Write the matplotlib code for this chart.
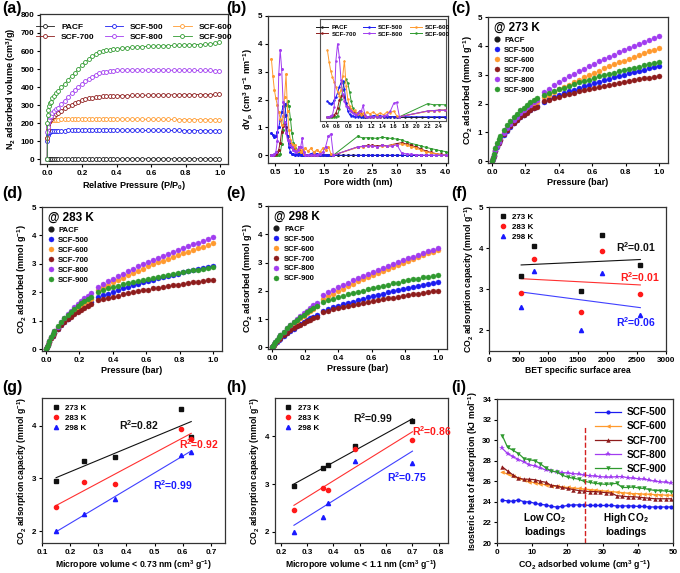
import numpy as np
import matplotlib
matplotlib.use('Agg')
import matplotlib.pyplot as plt

plt.rcParams['font.family'] = ['Liberation Sans', 'DejaVu Sans']
plt.rcParams['font.weight'] = 'bold'
plt.rcParams['axes.labelweight'] = 'bold'
plt.rcParams['mathtext.fontset'] = 'custom'
plt.rcParams['mathtext.rm'] = 'Liberation Sans:bold'
plt.rcParams['mathtext.it'] = 'Liberation Sans:bold:italic'
plt.rcParams['mathtext.bf'] = 'Liberation Sans:bold'
plt.rcParams['mathtext.default'] = 'rm'

# ---------------------- colours ----------------------
NAMES = ['PACF', 'SCF-500', 'SCF-600', 'SCF-700', 'SCF-800', 'SCF-900']
COLORS = {'PACF': '#1a1a1a', 'SCF-500': '#1c1cf0', 'SCF-600': '#ff9a2e',
          'SCF-700': '#8e1c1c', 'SCF-800': '#a13cf0', 'SCF-900': '#2f9a2f'}

# ---------------------- (a) N2 isotherms ----------------------
p_a = [0.0, 0.0005, 0.002, 0.005, 0.01, 0.015, 0.02, 0.03, 0.04, 0.05, 0.06, 0.08, 0.10, 0.12,
       0.14, 0.16, 0.18, 0.20, 0.22, 0.24, 0.26, 0.28, 0.30, 0.32, 0.34, 0.36, 0.38, 0.40, 0.43,
       0.46, 0.49, 0.52, 0.55, 0.58, 0.61, 0.64, 0.67, 0.70, 0.73, 0.76, 0.79, 0.82, 0.85, 0.88,
       0.91, 0.94, 0.97, 0.99]
n2_pacf = [0, 0.5, 0.8, 1.0, 1.2, 1.3, 1.4, 1.5, 1.6, 1.6, 1.7, 1.8, 1.9, 1.9, 2.0, 2.0, 2.0, 2.1,
           2.1, 2.1, 2.2, 2.2, 2.2, 2.2, 2.3, 2.3, 2.3, 2.3, 2.4, 2.4, 2.4, 2.4, 2.5, 2.5, 2.5, 2.5,
           2.6, 2.6, 2.6, 2.6, 2.7, 2.7, 2.7, 2.8, 2.8, 2.8, 2.9, 3.0]
n2_500 = [0, 100, 135, 148, 152, 154, 155, 156, 157, 158, 158, 159, 159, 160, 160, 160, 160, 161,
          161, 161, 161, 161, 161, 161, 161, 161, 161, 161, 161, 161, 161, 161, 160, 160, 160, 160,
          160, 160, 160, 160, 159, 159, 159, 159, 159, 158, 158, 158]
n2_600 = [0, 120, 175, 200, 210, 214, 216, 218, 219, 220, 220, 221, 221, 222, 222, 222, 222, 223,
          223, 223, 223, 223, 223, 223, 223, 223, 223, 222, 222, 222, 222, 222, 222, 222, 221, 221,
          221, 221, 221, 220, 220, 220, 220, 219, 219, 219, 218, 218]
n2_700 = [0, 120, 165, 190, 205, 215, 222, 233, 242, 250, 257, 270, 282, 293, 303, 312, 320, 327,
          333, 338, 342, 345, 347, 349, 350, 351, 352, 352, 353, 353, 354, 354, 355, 355, 356, 356,
          356, 357, 357, 357, 358, 358, 358, 359, 359, 359, 360, 360]
n2_800 = [0, 150, 180, 200, 220, 232, 242, 255, 266, 276, 286, 305, 325, 345, 365, 385, 402, 418,
          432, 446, 458, 468, 476, 482, 486, 489, 491, 492, 493, 494, 494, 494, 494, 494, 494, 494,
          494, 494, 493, 493, 493, 493, 493, 492, 492, 492, 490, 489]
n2_900 = [0, 200, 245, 275, 295, 310, 320, 338, 352, 365, 377, 398, 418, 440, 460, 480, 500, 520,
          540, 556, 570, 582, 592, 599, 604, 608, 611, 613, 616, 618, 620, 622, 624, 625, 627, 628,
          629, 630, 631, 632, 633, 634, 635, 636, 637, 639, 642, 648]

# ---------------------- (b) pore size distribution ----------------------
w_micro = [0.43, 0.46, 0.49, 0.52, 0.55, 0.58, 0.61, 0.64, 0.67, 0.70, 0.73, 0.76, 0.79, 0.82,
           0.85, 0.88, 0.91, 0.94, 0.97, 1.00, 1.03, 1.06, 1.09, 1.12, 1.18, 1.24, 1.30, 1.36,
           1.42, 1.48, 1.54, 1.60, 1.65, 1.70]
w_meso = [2.2, 2.3, 2.4, 2.5, 2.6, 2.7, 2.8, 2.9, 3.0, 3.1, 3.2, 3.3, 3.4, 3.5, 3.6, 3.7, 3.8,
          3.9, 4.0]
w_pacf = [1.7, 1.8, 1.9, 2.0, 2.1, 2.2, 2.3, 2.4, 2.5, 2.6, 2.7, 2.8, 2.9, 3.0, 3.1, 3.2, 3.3,
          3.4, 3.5, 3.6, 3.7]
psd_pacf = [0.0, 0.0, 0.0, 0.0, 0.0, 0.0, 0.0, 0.0, 0.0, 0.0, 0.0, 0.0, 0.0, 0.0, 0.0, 0.0, 0.0,
            0.0, 0.0, 0.0, 0.0]
psd_500 = [0.80, 0.72, 0.65, 0.70, 0.85, 1.00, 1.25, 1.55, 1.75, 1.85, 1.45, 0.70, 0.30, 0.12,
           0.05, 0.05, 0.00, 0.05, 0.00, 0.05, 0.00, 0.00, 0.00, 0.00, 0.02, 0.05, 0.10, 0.05,
           0.00, 0.00, 0.00, 0.00, 0.00, 0.00,
           0.00, 0.00, 0.00, 0.00, 0.00, 0.00, 0.00, 0.00, 0.00, 0.00, 0.00, 0.00, 0.00, 0.00,
           0.00, 0.00, 0.00, 0.00, 0.00]
psd_600 = [3.45, 2.85, 2.35, 2.05, 1.80, 1.55, 1.30, 1.10, 1.40, 2.10, 2.90, 1.60, 0.90, 0.55,
           0.40, 0.30, 0.35, 0.20, 0.15, 0.25, 0.10, 0.20, 0.05, 0.25, 0.15, 0.25, 0.10, 0.20,
           0.10, 0.25, 0.20, 0.30, 0.05, 0.00,
           0.28, 0.30, 0.32, 0.33, 0.31, 0.33, 0.32, 0.35, 0.38, 0.40, 0.36, 0.30, 0.25, 0.18,
           0.12, 0.08, 0.05, 0.02, 0.00]
psd_700 = [0.00, 0.00, 0.02, 0.05, 0.10, 0.20, 0.45, 0.85, 1.05, 1.15, 1.00, 0.70, 0.50, 0.40,
           0.30, 0.25, 0.20, 0.15, 0.20, 0.30, 0.15, 0.05, 0.00, 0.00, 0.00, 0.00, 0.00, 0.00,
           0.00, 0.00, 0.00, 0.00, 0.00, 0.00,
           0.30, 0.32, 0.35, 0.35, 0.33, 0.36, 0.34, 0.38, 0.42, 0.45, 0.40, 0.35, 0.30, 0.22,
           0.15, 0.10, 0.06, 0.03, 0.00]
psd_800 = [0.00, 0.00, 0.05, 0.10, 0.50, 2.90, 3.78, 3.10, 1.90, 1.20, 0.80, 0.55, 0.50, 0.35,
           0.30, 0.20, 0.15, 0.10, 0.20, 0.30, 0.30, 0.60, 0.10, 0.00, 0.00, 0.00, 0.00, 0.00,
           0.05, 0.10, 0.30, 0.70, 0.75, 0.00,
           0.30, 0.32, 0.33, 0.33, 0.30, 0.35, 0.33, 0.32, 0.38, 0.08, 0.05, 0.03, 0.02, 0.00,
           0.00, 0.00, 0.00, 0.00, 0.00]
psd_900 = [0.00, 0.00, 0.00, 0.00, 0.00, 0.00, 0.05, 0.40, 0.90, 1.40, 1.80, 1.93, 1.75, 1.30,
           0.80, 0.45, 0.25, 0.15, 0.10, 0.05, 0.00, 0.00, 0.00, 0.00, 0.00, 0.00, 0.00, 0.00,
           0.00, 0.00, 0.00, 0.00, 0.00, 0.00,
           0.68, 0.62, 0.63, 0.62, 0.60, 0.65, 0.62, 0.60, 0.58, 0.55, 0.48, 0.42, 0.38, 0.33,
           0.28, 0.24, 0.20, 0.16, 0.13]

# ---------------------- (c)-(e) CO2 isotherms ----------------------
p_co2 = [0.0, 0.005, 0.01, 0.02, 0.03, 0.04, 0.05, 0.07, 0.09, 0.11, 0.13, 0.15, 0.17, 0.19,
         0.21, 0.23, 0.25, 0.27,
         0.31, 0.34, 0.37, 0.40, 0.43, 0.46, 0.49, 0.52, 0.55, 0.58, 0.61, 0.64, 0.67, 0.70,
         0.73, 0.76, 0.79, 0.82, 0.85, 0.88, 0.91, 0.94, 0.97, 1.00]

co2_273 = {
    'SCF-500': [0, 0.09, 0.18, 0.35, 0.50, 0.62, 0.73, 0.91, 1.06, 1.19, 1.31, 1.42, 1.52, 1.61,
                1.70, 1.78, 1.85, 1.92,
                2.07, 2.15, 2.22, 2.29, 2.35, 2.42, 2.48, 2.54, 2.60, 2.65, 2.71, 2.76, 2.81,
                2.86, 2.91, 2.96, 3.00, 3.05, 3.09, 3.14, 3.18, 3.22, 3.26, 3.30],
    'SCF-600': [0, 0.10, 0.20, 0.38, 0.53, 0.66, 0.78, 0.97, 1.13, 1.27, 1.40, 1.51, 1.62, 1.72,
                1.81, 1.90, 1.98, 2.06,
                2.22, 2.31, 2.40, 2.49, 2.58, 2.66, 2.75, 2.83, 2.92, 2.99, 3.07, 3.14, 3.22,
                3.29, 3.36, 3.43, 3.49, 3.56, 3.62, 3.69, 3.75, 3.81, 3.87, 3.93],
    'SCF-700': [0, 0.10, 0.19, 0.37, 0.52, 0.64, 0.75, 0.93, 1.08, 1.21, 1.33, 1.43, 1.52, 1.61,
                1.69, 1.76, 1.83, 1.89,
                2.08, 2.14, 2.19, 2.24, 2.29, 2.34, 2.38, 2.42, 2.47, 2.50, 2.54, 2.58, 2.62,
                2.65, 2.68, 2.72, 2.75, 2.78, 2.81, 2.84, 2.87, 2.90, 2.92, 2.95],
    'SCF-800': [0, 0.10, 0.20, 0.38, 0.54, 0.67, 0.79, 0.98, 1.15, 1.30, 1.43, 1.55, 1.66, 1.77,
                1.87, 1.96, 2.05, 2.14,
                2.41, 2.52, 2.63, 2.74, 2.84, 2.94, 3.03, 3.12, 3.21, 3.30, 3.38, 3.46, 3.55,
                3.62, 3.70, 3.78, 3.85, 3.92, 3.99, 4.06, 4.13, 4.20, 4.27, 4.33],
    'SCF-900': [0, 0.12, 0.25, 0.45, 0.62, 0.76, 0.88, 1.08, 1.25, 1.40, 1.53, 1.65, 1.76, 1.86,
                1.95, 2.04, 2.12, 2.20,
                2.28, 2.36, 2.43, 2.49, 2.55, 2.62, 2.67, 2.73, 2.78, 2.83, 2.89, 2.94, 2.98,
                3.03, 3.07, 3.12, 3.16, 3.20, 3.24, 3.28, 3.32, 3.36, 3.39, 3.43],
}
co2_283 = {
    'SCF-500': [0, 0.07, 0.14, 0.27, 0.38, 0.48, 0.57, 0.72, 0.85, 0.97, 1.08, 1.18, 1.27, 1.36,
                1.44, 1.52, 1.59, 1.66,
                1.83, 1.90, 1.96, 2.02, 2.08, 2.14, 2.20, 2.25, 2.30, 2.35, 2.40, 2.44, 2.49,
                2.53, 2.58, 2.62, 2.66, 2.70, 2.74, 2.77, 2.81, 2.85, 2.88, 2.92],
    'SCF-600': [0, 0.07, 0.14, 0.27, 0.39, 0.49, 0.58, 0.74, 0.88, 1.01, 1.13, 1.24, 1.34, 1.44,
                1.53, 1.62, 1.70, 1.78,
                2.10, 2.19, 2.27, 2.35, 2.44, 2.52, 2.60, 2.68, 2.76, 2.83, 2.91, 2.98, 3.05,
                3.11, 3.18, 3.24, 3.31, 3.37, 3.43, 3.49, 3.55, 3.61, 3.66, 3.72],
    'SCF-700': [0, 0.07, 0.14, 0.27, 0.38, 0.48, 0.57, 0.72, 0.85, 0.96, 1.06, 1.15, 1.24, 1.32,
                1.39, 1.46, 1.52, 1.58,
                1.72, 1.77, 1.81, 1.85, 1.89, 1.93, 1.97, 2.01, 2.04, 2.07, 2.10, 2.14, 2.16,
                2.19, 2.22, 2.25, 2.27, 2.30, 2.32, 2.35, 2.37, 2.40, 2.42, 2.44],
    'SCF-800': [0, 0.08, 0.15, 0.29, 0.42, 0.53, 0.63, 0.80, 0.96, 1.10, 1.23, 1.35, 1.47, 1.58,
                1.69, 1.79, 1.89, 1.98,
                2.19, 2.29, 2.39, 2.48, 2.58, 2.66, 2.75, 2.83, 2.92, 2.99, 3.07, 3.14, 3.22,
                3.29, 3.36, 3.43, 3.49, 3.56, 3.62, 3.69, 3.75, 3.81, 3.87, 3.93],
    'SCF-900': [0, 0.08, 0.16, 0.30, 0.43, 0.54, 0.64, 0.81, 0.96, 1.09, 1.21, 1.32, 1.42, 1.52,
                1.61, 1.69, 1.77, 1.85,
                2.03, 2.09, 2.14, 2.19, 2.23, 2.28, 2.32, 2.37, 2.41, 2.45, 2.48, 2.52, 2.55,
                2.59, 2.62, 2.65, 2.68, 2.71, 2.74, 2.77, 2.80, 2.83, 2.85, 2.88],
}
co2_298 = {
    'SCF-500': [0, 0.04, 0.07, 0.14, 0.20, 0.26, 0.31, 0.41, 0.50, 0.58, 0.66, 0.74, 0.81, 0.88,
                0.95, 1.02, 1.08, 1.14,
                1.29, 1.35, 1.41, 1.47, 1.52, 1.57, 1.62, 1.67, 1.72, 1.77, 1.81, 1.86, 1.90,
                1.94, 1.98, 2.02, 2.06, 2.10, 2.14, 2.18, 2.21, 2.25, 2.29, 2.32],
    'SCF-600': [0, 0.04, 0.08, 0.16, 0.24, 0.31, 0.37, 0.49, 0.61, 0.72, 0.82, 0.92, 1.02, 1.11,
                1.20, 1.29, 1.37, 1.45,
                1.70, 1.80, 1.90, 1.98, 2.07, 2.16, 2.24, 2.33, 2.40, 2.48, 2.56, 2.63, 2.70,
                2.78, 2.85, 2.92, 2.99, 3.05, 3.12, 3.19, 3.25, 3.32, 3.38, 3.44],
    'SCF-700': [0, 0.04, 0.08, 0.15, 0.22, 0.28, 0.33, 0.43, 0.52, 0.60, 0.67, 0.74, 0.80, 0.86,
                0.92, 0.98, 1.03, 1.08,
                1.25, 1.30, 1.34, 1.39, 1.43, 1.47, 1.50, 1.54, 1.57, 1.61, 1.64, 1.67, 1.70,
                1.73, 1.76, 1.79, 1.82, 1.85, 1.87, 1.90, 1.93, 1.95, 1.98, 2.00],
    'SCF-800': [0, 0.05, 0.10, 0.19, 0.27, 0.35, 0.42, 0.55, 0.67, 0.79, 0.90, 1.00, 1.10, 1.20,
                1.30, 1.39, 1.48, 1.57,
                1.85, 1.94, 2.03, 2.12, 2.21, 2.29, 2.37, 2.45, 2.53, 2.60, 2.67, 2.75, 2.82,
                2.89, 2.95, 3.02, 3.08, 3.15, 3.21, 3.27, 3.33, 3.39, 3.45, 3.51],
    'SCF-900': [0, 0.05, 0.10, 0.19, 0.27, 0.35, 0.42, 0.55, 0.67, 0.78, 0.88, 0.98, 1.07, 1.16,
                1.24, 1.32, 1.40, 1.47,
                1.60, 1.66, 1.72, 1.77, 1.83, 1.88, 1.93, 1.97, 2.01, 2.06, 2.10, 2.14, 2.18,
                2.22, 2.26, 2.29, 2.33, 2.37, 2.40, 2.43, 2.47, 2.50, 2.53, 2.56],
}

# ---------------------- (f)-(h) correlations ----------------------
temps = ['273 K', '283 K', '298 K']
bet_area = [545, 770, 1555, 1910, 2565]
cap_f = {'273 K': [3.33, 4.06, 2.96, 4.32, 3.59],
         '283 K': [2.92, 3.74, 2.46, 3.94, 2.88],
         '298 K': [2.57, 3.45, 2.01, 3.40, 2.37]}
vmic_073 = [0.15, 0.25, 0.36, 0.595, 0.63]
cap_g = {'273 K': [2.96, 3.33, 3.40, 4.32, 3.79],
         '283 K': [2.46, 2.93, 2.89, 3.93, 3.74],
         '298 K': [2.01, 2.32, 2.61, 3.45, 3.50]}
vmic_11 = [0.25, 0.36, 0.38, 0.48, 0.70]
cap_h = {'273 K': [2.96, 3.33, 3.40, 3.79, 4.32],
         '283 K': [2.46, 2.92, 2.88, 3.74, 3.93],
         '298 K': [2.01, 2.32, 2.60, 3.49, 3.45]}
r2_f = ['0.01', '0.01', '0.06']
r2_g = ['0.82', '0.92', '0.99']
r2_h = ['0.99', '0.86', '0.75']

# ---------------------- (i) isosteric heat ----------------------
q_ads = [1.5, 3.0, 4.6, 6.1, 7.7, 9.2, 10.8, 12.3, 13.9, 15.4, 17.0, 18.5, 20.1, 21.6, 23.2,
         24.7, 26.3, 27.8, 29.4, 30.9, 32.5, 34.0, 35.6, 37.1, 38.7, 40.2, 41.8, 43.3, 44.9,
         46.4, 48.0, 49.5]
qst = {
    'SCF-500': [24.15, 24.10, 24.05, 24.20, 24.00, 24.00, 23.85, 23.75, 23.70, 23.55, 23.50,
                23.55, 23.65, 23.70, 23.70, 23.70, 23.65, 23.65, 23.65, 23.65, 23.65, 23.60,
                23.60, 23.60, 23.60, 23.55, 23.55, 23.50, 23.50, 23.50, 23.50, 23.50],
    'SCF-600': [26.90, 26.70, 26.50, 26.30, 26.10, 25.95, 25.85, 25.75, 25.65, 25.55, 25.50,
                25.45, 25.40, 25.35, 25.30, 25.25, 25.20, 25.15, 25.10, 25.05, 25.00, 24.95,
                24.90, 24.85, 24.80, 24.80, 24.75, 24.75, 24.70, 24.70, 24.65, 24.65],
    'SCF-700': [27.40, 27.00, 26.60, 26.30, 26.20, 26.20, 26.15, 26.00, 25.90, 25.60, 25.55,
                25.40, 25.30, 25.20, 25.10, 25.05, 25.00, 25.00, 24.95, 24.90, 24.85, 24.60,
                24.55, 24.50, 24.50, 24.45, 24.40, 24.35, 24.30, 24.30, 24.30, 24.30],
    'SCF-800': [29.20, 28.70, 28.40, 28.10, 27.90, 27.60, 27.50, 27.30, 27.10, 27.00, 26.90,
                26.85, 26.80, 26.75, 26.70, 26.60, 26.55, 26.50, 26.45, 26.40, 26.40, 26.45,
                26.45, 26.35, 26.30, 26.25, 26.20, 26.10, 26.00, 25.95, 25.90, 25.80],
    'SCF-900': [30.45, 29.30, 29.00, 28.70, 28.20, 28.10, 28.00, 27.70, 27.30, 27.00, 26.90,
                26.60, 26.40, 26.30, 26.20, 26.00, 25.90, 25.80, 25.75, 25.70, 25.75, 25.80,
                25.40, 25.40, 25.45, 25.35, 25.30, 25.20, 25.10, 25.10, 25.05, 25.00],
}

# ---------------------- helpers ----------------------
W, H = 680, 573
fig = plt.figure(figsize=(W / 100, H / 100), dpi=100)


def px_axes(l, t, r, b):
    return fig.add_axes([l / W, 1 - b / H, (r - l) / W, (b - t) / H])


def style(ax, xlim, ylim, xticks, yticks, xlabel, ylabel, lsize=6.5):
    ax.set_xlim(*xlim)
    ax.set_ylim(*ylim)
    ax.set_xticks(xticks)
    ax.set_yticks(yticks)
    ax.set_xlabel(xlabel, fontsize=lsize, labelpad=2)
    ax.set_ylabel(ylabel, fontsize=lsize, labelpad=2)
    ax.tick_params(direction='out', length=2.5, width=0.8, labelsize=5.8, pad=1.5)
    for s in ax.spines.values():
        s.set_linewidth(0.9)
        s.set_color('#333333')


def panel_label(x, y, s):
    fig.text(x / W, 1 - y / H, s, fontsize=11.5, fontweight='bold', va='top', ha='left')


# ---------------------- (a) ----------------------
ax = px_axes(40, 14, 228, 164)
n2 = {'PACF': n2_pacf, 'SCF-500': n2_500, 'SCF-600': n2_600,
      'SCF-700': n2_700, 'SCF-800': n2_800, 'SCF-900': n2_900}
handles = {}
for name in NAMES:
    c = COLORS[name]
    h, = ax.plot(p_a, n2[name], '-o', color=c, mfc='white', mec=c, ms=2.8, mew=0.6, lw=0.6,
                 label=name)
    handles[name] = h
order = ['PACF', 'SCF-700', 'SCF-500', 'SCF-800', 'SCF-600', 'SCF-900']
ax.legend([handles[n] for n in order], order, ncol=3, loc='upper center', frameon=False,
          fontsize=6, handlelength=2.2, columnspacing=1.2, labelspacing=0.3,
          bbox_to_anchor=(0.5, 0.99))
style(ax, (-0.042, 1.044), (-26, 805), [0, 0.2, 0.4, 0.6, 0.8, 1.0],
      list(range(0, 801, 100)), 'Relative Pressure (P/P$_0$)', 'N$_2$ adsorbed volume (cm$^3$/g)')
panel_label(2, 1, '(a)')

# ---------------------- (b) ----------------------
psd = {'SCF-500': psd_500, 'SCF-600': psd_600, 'SCF-700': psd_700,
       'SCF-800': psd_800, 'SCF-900': psd_900}
zord = {'PACF': 2, 'SCF-500': 4, 'SCF-600': 5, 'SCF-700': 3.5, 'SCF-800': 6, 'SCF-900': 3}
w_all = w_micro + w_meso


def draw_psd(ax, ms):
    hs = {}
    for name in NAMES:
        c = COLORS[name]
        if name == 'PACF':
            xs, ys = w_pacf, psd_pacf
        else:
            xs, ys = w_all, psd[name]
        h, = ax.plot(xs, ys, '-o', color=c, ms=ms, mew=0, lw=0.7, zorder=zord[name], label=name)
        hs[name] = h
    return hs


ax = px_axes(268, 16, 448, 163)
draw_psd(ax, 2.2)
style(ax, (0.36, 4.05), (-0.28, 5.0), [0.5, 1.0, 1.5, 2.0, 2.5, 3.0, 3.5, 4.0],
      [0, 1, 2, 3, 4, 5], 'Pore width (nm)', 'dV$_p$ (cm$^3$ g$^{-1}$ nm$^{-1}$)')
panel_label(226, 1, '(b)')

axin = px_axes(320, 19, 446, 121)
hs = draw_psd(axin, 1.8)
axin.set_xlim(0.3, 2.52)
axin.set_ylim(-0.22, 5.06)
axin.set_xticks([0.4, 0.6, 0.8, 1.0, 1.2, 1.4, 1.6, 1.8, 2.0, 2.2, 2.4])
axin.set_yticks([])
axin.tick_params(direction='out', length=1.5, width=0.6, labelsize=4, pad=1)
for s in axin.spines.values():
    s.set_linewidth(0.8)
    s.set_color('#555555')
axin.legend([hs[n] for n in order], order, ncol=3, loc='upper center', frameon=False,
            fontsize=4.5, handlelength=2.0, columnspacing=1.0, labelspacing=0.2,
            bbox_to_anchor=(0.5, 1.0), handletextpad=0.5)

# ---------------------- (c)-(e) ----------------------


def draw_co2(box, data, temp, lab, lx, ly):
    ax = px_axes(*box)
    ax.plot([], [], 'o', color=COLORS['PACF'], ms=3.4, label='PACF')
    for name in NAMES[1:]:
        c = COLORS[name]
        ax.plot(p_co2, data[name], 'o', ls='none', color=c, ms=3.6, mec=c, mew=0.3, label=name)
    ax.text(0.035, 0.965, '@ ' + temp, transform=ax.transAxes, fontsize=8.5, va='top', ha='left')
    ax.legend(loc='upper left', bbox_to_anchor=(0.03, 0.865), frameon=False, fontsize=5.6,
              handlelength=0.8, handletextpad=0.6, labelspacing=0.32, borderaxespad=0,
              borderpad=0)
    style(ax, (-0.024, 1.054), (-0.06, 5.0), [0, 0.2, 0.4, 0.6, 0.8, 1.0], [0, 1, 2, 3, 4, 5],
          'Pressure (bar)', 'CO$_2$ adsorbed (mmol g$^{-1}$)')
    panel_label(lx, ly, lab)


draw_co2((488, 17, 668, 163), co2_273, '273 K', '(c)', 451, 1)
draw_co2((42, 207, 222, 351), co2_283, '283 K', '(d)', 2, 186)
draw_co2((268, 206, 447, 349), co2_298, '298 K', '(e)', 226, 186)

# ---------------------- (f)-(h) ----------------------
T_STYLE = {'273 K': ('s', '#111111', '#111111'),
           '283 K': ('o', '#ff1a1a', '#ff3030'),
           '298 K': ('^', '#1a1aff', '#4040ff')}
R2_COLORS = ['#111111', '#ff1a1a', '#1a1aff']


def draw_corr(box, xs, caps, r2, r2pos, xlim, ylim, xticks, yticks, xlabel, lab, lx, ly):
    ax = px_axes(*box)
    xs = np.array(xs, dtype=float)
    for t in temps:
        mk, c, lc = T_STYLE[t]
        ys = np.array(caps[t])
        ax.plot(xs, ys, mk, ls='none', color=c, ms=3.0, label=t, zorder=3)
        k, b0 = np.polyfit(xs, ys, 1)
        xx = np.array([xs.min(), xs.max()])
        ax.plot(xx, k * xx + b0, '-', color=lc, lw=0.8, zorder=2)
    for val, (tx, ty), c in zip(r2, r2pos, R2_COLORS):
        ax.text(tx, ty, 'R$^{2}$=' + val, color=c, fontsize=7.5, va='center', ha='left')
    ax.legend(loc='upper left', bbox_to_anchor=(0.04, 0.98), frameon=False, fontsize=5.8,
              handlelength=0.8, handletextpad=0.8, labelspacing=0.3, borderaxespad=0)
    style(ax, xlim, ylim, xticks, yticks, xlabel,
          'CO$_2$ adsorption capacity (mmol g$^{-1}$)', lsize=6.2)
    panel_label(lx, ly, lab)
    return ax


draw_corr((489, 207, 666, 351), bet_area, cap_f, r2_f,
          [(2160, 4.02), (2215, 3.29), (2160, 2.21)],
          (0, 3000), (1.5, 5.0), [0, 500, 1000, 1500, 2000, 2500, 3000], [2, 3, 4, 5],
          'BET specific surface area', '(f)', 451, 186)
draw_corr((42, 398, 225, 543), vmic_073, cap_g, r2_g,
          [(0.375, 4.01), (0.588, 3.64), (0.494, 2.88)],
          (0.1, 0.75), (1.78, 4.52), [0.1, 0.2, 0.3, 0.4, 0.5, 0.6, 0.7], [2, 3, 4],
          'Micropore volume < 0.73 nm (cm$^3$ g$^{-1}$)', '(g)', 2, 380)
draw_corr((275, 398, 448, 543), vmic_11, cap_h, r2_h,
          [(0.476, 4.39), (0.700, 4.10), (0.602, 3.14)],
          (0.178, 0.835), (1.77, 4.8), [0.2, 0.3, 0.4, 0.5, 0.6, 0.7, 0.8], [2, 3, 4],
          'Micropore volume < 1.1 nm (cm$^3$ g$^{-1}$)', '(h)', 226, 380)

# ---------------------- (i) ----------------------
ax = px_axes(497, 399, 673, 543)
MARK_I = {'SCF-500': ('o', 3.0), 'SCF-600': ('<', 3.2), 'SCF-700': ('^', 3.2),
          'SCF-800': ('*', 4.2), 'SCF-900': ('v', 3.2)}
for name in NAMES[1:]:
    mk, ms = MARK_I[name]
    ax.plot(q_ads, qst[name], '-', marker=mk, color=COLORS[name], ms=ms, mew=0, lw=0.9,
            label=name)
ax.axvline(25, ymin=0, ymax=(31.3 - 20) / 14, color='#d42020', ls='--', lw=1.0)
ax.text(13.7, 21.85, 'Low CO$_2$\nloadings', ha='center', va='center', fontsize=7.2,
        linespacing=1.25)
ax.text(36.5, 21.85, 'High CO$_2$\nloadings', ha='center', va='center', fontsize=7.2,
        linespacing=1.25)
ax.legend(loc='upper right', bbox_to_anchor=(1.0, 0.985), frameon=False, fontsize=7.2,
          handlelength=2.6, handletextpad=0.6, labelspacing=0.42, borderaxespad=0.2)
style(ax, (0, 50), (20, 34), [0, 10, 20, 30, 40, 50], list(range(20, 35, 2)),
      'CO$_2$ adsorbed volume (cm$^3$ g$^{-1}$)', 'Isosteric heat of adsorption (kJ mol$^{-1}$)',
      lsize=6.3)
panel_label(451, 380, '(i)')

fig.savefig('out.png', dpi=100)
